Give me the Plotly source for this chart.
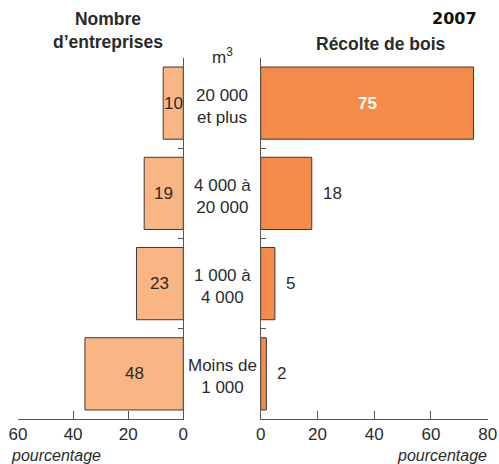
import plotly.graph_objects as go

W, H = 499, 464

# Size classes (bottom to top)
categories = ["Moins de<br>1\u00a0000", "1\u00a0000 à<br>4\u00a0000", "4\u00a0000 à<br>20\u00a0000", "20\u00a0000<br>et plus"]
# Number of enterprises: printed labels and drawn bar lengths
entreprises_labels = [48, 23, 19, 10]
entreprises_bar = [35.7, 17.0, 14.2, 7.3]
# Wood harvest (%)
recolte = [2, 5, 18, 75]

left_ticks = [0, 20, 40, 60]
right_ticks = [0, 20, 40, 60, 80]

FONT = "Liberation Sans"
TXT = "#2b2b2b"
LINE = "#555555"
C_LEFT = "#F9B584"
C_RIGHT = "#F58B48"
BORDER = "#3a3a3a"

def px(x):
    return x / W

def py(y):
    return 1 - y / H

idx = list(range(len(categories)))

fig = go.Figure()
fig.add_trace(go.Bar(x=entreprises_bar, y=idx, orientation="h", xaxis="x", yaxis="y",
                     width=0.8, marker=dict(color=C_LEFT, line=dict(color=BORDER, width=1)),
                     hoverinfo="skip"))
fig.add_trace(go.Bar(x=recolte, y=idx, orientation="h", xaxis="x2", yaxis="y2",
                     width=0.8, marker=dict(color=C_RIGHT, line=dict(color=BORDER, width=1)),
                     hoverinfo="skip"))

ann = []
for i, (b, lab) in enumerate(zip(entreprises_bar, entreprises_labels)):
    ann.append(dict(x=b / 2, y=i, xref="x", yref="y", text=str(lab), showarrow=False,
                    xanchor="center", yanchor="middle", font=dict(size=17, color=TXT, family=FONT)))
for i, v in enumerate(recolte):
    if v > 40:
        ann.append(dict(x=v / 2, y=i, xref="x2", yref="y2", text="<b>%d</b>" % v, showarrow=False,
                        xanchor="center", yanchor="middle", font=dict(size=17, color="white", family=FONT)))
    else:
        ann.append(dict(x=v, y=i, xref="x2", yref="y2", text=str(v), showarrow=False, xshift=9,
                        xanchor="left", yanchor="middle", font=dict(size=17, color=TXT, family=FONT)))
for i, c in enumerate(categories):
    ann.append(dict(x=px(222), y=i, xref="paper", yref="y2", text=c, showarrow=False, yshift=-3,
                    xanchor="center", yanchor="middle", align="center",
                    font=dict(size=17, color=TXT, family=FONT)))

ann += [
    dict(x=px(108), y=py(31), xref="paper", yref="paper", text="<b>Nombre<br>d’entreprises</b>",
         showarrow=False, xanchor="center", yanchor="middle", align="center",
         font=dict(size=17.5, color=TXT, family=FONT)),
    dict(x=px(381), y=py(44), xref="paper", yref="paper", text="<b>Récolte de bois</b>",
         showarrow=False, xanchor="center", yanchor="middle", font=dict(size=17.5, color=TXT, family=FONT)),
    dict(x=px(479), y=py(19), xref="paper", yref="paper", text="<b>2007</b>",
         showarrow=False, xanchor="right", yanchor="middle", font=dict(size=16, color="#111", family="DejaVu Sans")),
    dict(x=px(222), y=py(56), xref="paper", yref="paper", text="m<sup>3</sup>",
         showarrow=False, xanchor="center", yanchor="middle", font=dict(size=17, color=TXT, family=FONT)),
    dict(x=px(9), y=py(455), xref="paper", yref="paper", text="<i>pourcentage</i>",
         showarrow=False, xanchor="left", yanchor="middle", font=dict(size=16, color=TXT, family=FONT)),
    dict(x=px(489), y=py(455), xref="paper", yref="paper", text="<i>pourcentage</i>",
         showarrow=False, xanchor="right", yanchor="middle", font=dict(size=16, color=TXT, family=FONT)),
]

ydom = [py(419), py(58)]
yboundaries = [i + 0.5 for i in idx]
common_x = dict(showline=True, linecolor=LINE, linewidth=1, ticks="inside", ticklen=8, tickcolor=LINE,
                showgrid=False, zeroline=False, fixedrange=True, automargin=False,
                tickfont=dict(size=17, color=TXT, family=FONT))
common_y = dict(showline=True, linecolor=LINE, linewidth=1, ticks="inside", ticklen=5, tickcolor=LINE,
                showgrid=False, zeroline=False, showticklabels=False, range=[-0.5, len(idx) - 0.5],
                tickvals=yboundaries, domain=ydom, fixedrange=True, automargin=False)

fig.update_layout(
    width=W, height=H, margin=dict(l=0, r=0, t=0, b=0, pad=0, autoexpand=False),
    paper_bgcolor="white", plot_bgcolor="white", showlegend=False,
    font=dict(family=FONT, color=TXT),
    xaxis=dict(domain=[px(18), px(183.3)], range=[60, 0], tickvals=left_ticks, anchor="y", **common_x),
    yaxis=dict(anchor="x", side="right", **common_y),
    xaxis2=dict(domain=[px(260.7), px(487.7)], range=[0, 80], tickvals=right_ticks, anchor="y2", **common_x),
    yaxis2=dict(anchor="x2", side="left", **common_y),
    annotations=ann,
)

fig.write_html("out.html", config={"displayModeBar": False},
               post_script="document.body.style.margin='0px';document.body.style.overflow='hidden';")
